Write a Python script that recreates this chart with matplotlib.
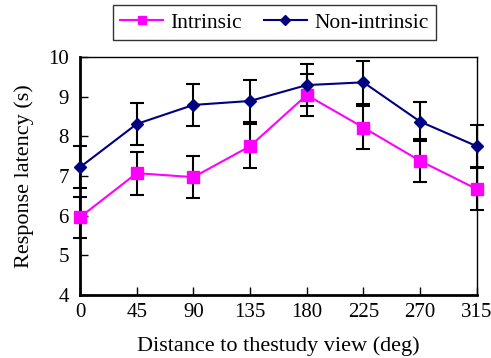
import matplotlib
matplotlib.use("Agg")
import matplotlib.pyplot as plt

plt.rcParams['font.family'] = ['Liberation Serif', 'DejaVu Serif']

# data
angles = [0, 45, 90, 135, 180, 225, 270, 315]
intrinsic = [5.96, 7.07, 6.97, 7.75, 9.04, 8.22, 7.38, 6.67]
intrinsic_err = [0.52, 0.54, 0.53, 0.55, 0.53, 0.55, 0.54, 0.54]
nonintrinsic = [7.22, 8.31, 8.79, 8.89, 9.29, 9.36, 8.37, 7.75]
nonintrinsic_err = [0.53, 0.54, 0.53, 0.53, 0.53, 0.54, 0.50, 0.53]
yticks = [4, 5, 6, 7, 8, 9, 10]

fig = plt.figure(figsize=(4.91, 3.58), dpi=100)
ax = fig.add_axes([0.163, 0.176, 0.808, 0.665])

ax.errorbar(angles, intrinsic, yerr=intrinsic_err, fmt='none', ecolor='black',
            elinewidth=1.5, capsize=5, capthick=1.5, clip_on=False, zorder=2)
ax.errorbar(angles, nonintrinsic, yerr=nonintrinsic_err, fmt='none', ecolor='black',
            elinewidth=1.5, capsize=5, capthick=1.5, clip_on=False, zorder=2)
ax.plot(angles, intrinsic, color='#ff00ff', marker='s', markersize=8, linewidth=1.5,
        label='Intrinsic', clip_on=False, zorder=3)
ax.plot(angles, nonintrinsic, color='#000080', marker='D', markersize=6.5, linewidth=1.5,
        label='Non-intrinsic', clip_on=False, zorder=3)

ax.set_xlim(0, 315)
ax.set_ylim(4, 10)
ax.set_xticks(angles)
ax.set_yticks(yticks)
ax.tick_params(direction='in', labelsize=15, length=6, width=1)
ax.tick_params(axis='y', pad=8)
ax.tick_params(axis='x', pad=6)
for s in ['left', 'bottom']:
    ax.spines[s].set_linewidth(2)
for s in ['top', 'right']:
    ax.spines[s].set_linewidth(1)

ax.set_xlabel('Distance to thestudy view (deg)', fontsize=16, labelpad=10)
ax.set_ylabel('Response latency (s)', fontsize=16, labelpad=10)

leg = ax.legend(loc='lower center', bbox_to_anchor=(0.49, 1.025), ncol=2, fontsize=15.5,
                frameon=True, fancybox=False, edgecolor='black', handlelength=2.0,
                borderpad=0.35, columnspacing=1.0, handletextpad=0.35, markerscale=0.8)
leg.get_frame().set_linewidth(1)

fig.savefig('out.png', dpi=100)
